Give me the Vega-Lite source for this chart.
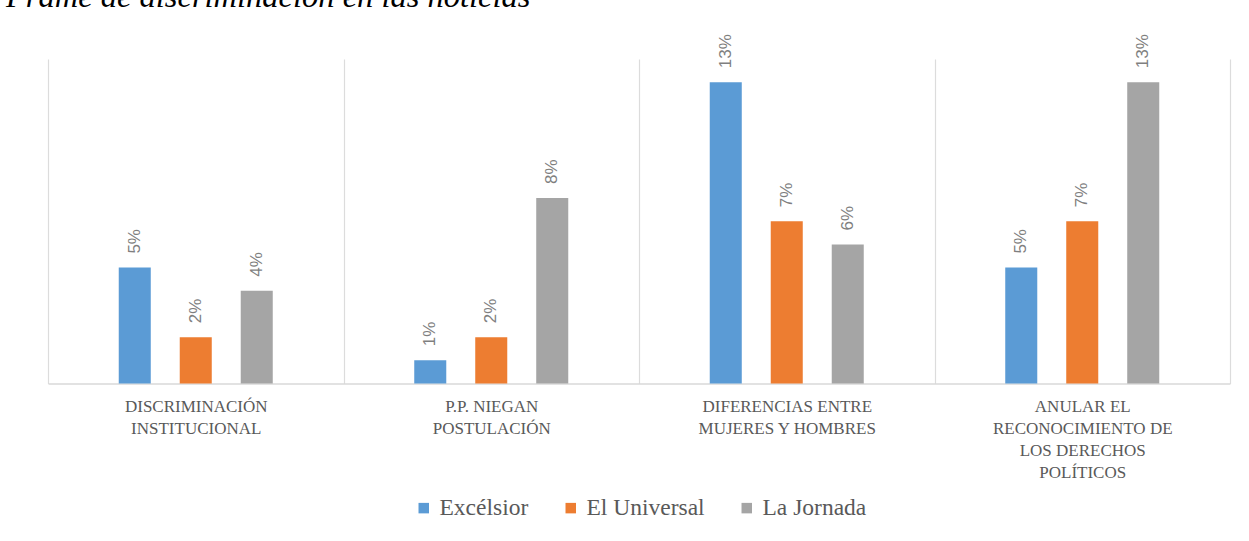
{
  "$schema": "https://vega.github.io/schema/vega-lite/v6.json",
  "autosize": {"type": "none"},
  "width": 1182,
  "height": 324.5,
  "padding": {"left": 48, "top": 59, "right": 19, "bottom": 157.5},
  "background": "#ffffff",
  "title": {
    "text": "Frame de discriminación en las noticias",
    "anchor": "start",
    "frame": "group",
    "font": "Liberation Serif",
    "fontStyle": "italic",
    "fontWeight": "normal",
    "fontSize": 32.5,
    "color": "#000000",
    "baseline": "alphabetic",
    "offset": 22,
    "dx": -42,
    "dy": 27
  },
  "data": {
    "values": [
      {"categoria": "DISCRIMINACIÓN INSTITUCIONAL", "periodico": "Excélsior", "valor": 0.05},
      {"categoria": "DISCRIMINACIÓN INSTITUCIONAL", "periodico": "El Universal", "valor": 0.02},
      {"categoria": "DISCRIMINACIÓN INSTITUCIONAL", "periodico": "La Jornada", "valor": 0.04},
      {"categoria": "P.P. NIEGAN POSTULACIÓN", "periodico": "Excélsior", "valor": 0.01},
      {"categoria": "P.P. NIEGAN POSTULACIÓN", "periodico": "El Universal", "valor": 0.02},
      {"categoria": "P.P. NIEGAN POSTULACIÓN", "periodico": "La Jornada", "valor": 0.08},
      {"categoria": "DIFERENCIAS ENTRE MUJERES Y HOMBRES", "periodico": "Excélsior", "valor": 0.13},
      {"categoria": "DIFERENCIAS ENTRE MUJERES Y HOMBRES", "periodico": "El Universal", "valor": 0.07},
      {"categoria": "DIFERENCIAS ENTRE MUJERES Y HOMBRES", "periodico": "La Jornada", "valor": 0.06},
      {"categoria": "ANULAR EL RECONOCIMIENTO DE LOS DERECHOS POLÍTICOS", "periodico": "Excélsior", "valor": 0.05},
      {"categoria": "ANULAR EL RECONOCIMIENTO DE LOS DERECHOS POLÍTICOS", "periodico": "El Universal", "valor": 0.07},
      {"categoria": "ANULAR EL RECONOCIMIENTO DE LOS DERECHOS POLÍTICOS", "periodico": "La Jornada", "valor": 0.13}
    ]
  },
  "encoding": {
    "x": {
      "field": "categoria",
      "type": "nominal",
      "sort": null,
      "scale": {"paddingInner": 0, "paddingOuter": 0},
      "axis": {
        "title": null,
        "labelAngle": 0,
        "labelFont": "Liberation Serif",
        "labelFontSize": 17,
        "labelColor": "#595959",
        "labelLineHeight": 22,
        "labelPadding": 15,
        "labelBaseline": "top",
        "labelLimit": 0,
        "ticks": false,
        "tickBand": "extent",
        "grid": true,
        "gridColor": "#dcdcdc",
        "gridWidth": 1.2,
        "domainColor": "#d9d9d9",
        "domainWidth": 1.3,
        "labelExpr": "datum.value == 'DISCRIMINACIÓN INSTITUCIONAL' ? ['DISCRIMINACIÓN', 'INSTITUCIONAL'] : datum.value == 'P.P. NIEGAN POSTULACIÓN' ? ['P.P. NIEGAN', 'POSTULACIÓN'] : datum.value == 'DIFERENCIAS ENTRE MUJERES Y HOMBRES' ? ['DIFERENCIAS ENTRE', 'MUJERES Y HOMBRES'] : datum.value == 'ANULAR EL RECONOCIMIENTO DE LOS DERECHOS POLÍTICOS' ? ['ANULAR EL', 'RECONOCIMIENTO DE', 'LOS DERECHOS', 'POLÍTICOS'] : ''"
      }
    },
    "xOffset": {
      "field": "periodico",
      "type": "nominal",
      "scale": {"domain": ["_izq", "Excélsior", "El Universal", "La Jornada", "_der"], "paddingInner": 0.475, "paddingOuter": 0.16}
    },
    "y": {
      "field": "valor",
      "type": "quantitative",
      "scale": {"domain": [0, 0.14], "nice": false},
      "axis": null
    }
  },
  "layer": [
    {
      "mark": {"type": "bar"},
      "encoding": {
        "color": {
          "field": "periodico",
          "type": "nominal",
          "scale": {"domain": ["Excélsior", "El Universal", "La Jornada"], "range": ["#5b9bd5", "#ed7d31", "#a5a5a5"]},
          "legend": {
            "title": null,
            "orient": "none",
            "legendX": 364,
            "legendY": 437,
            "direction": "horizontal",
            "symbolType": "square",
            "symbolSize": 110,
            "symbolStrokeWidth": 0,
            "symbolOpacity": 1,
            "labelFont": "Liberation Serif",
            "labelFontSize": 23.5,
            "labelColor": "#595959",
            "labelOffset": 4,
            "columnPadding": 30
          }
        }
      }
    },
    {
      "mark": {
        "type": "text",
        "angle": 270,
        "align": "left",
        "baseline": "middle",
        "dx": 14,
        "font": "Liberation Sans",
        "fontSize": 17,
        "color": "#7f7f7f"
      },
      "encoding": {
        "text": {"field": "valor", "type": "quantitative", "format": ".0%"}
      }
    }
  ],
  "config": {
    "view": {"stroke": null},
    "legend": {"labelFont": "Liberation Serif"}
  }
}
